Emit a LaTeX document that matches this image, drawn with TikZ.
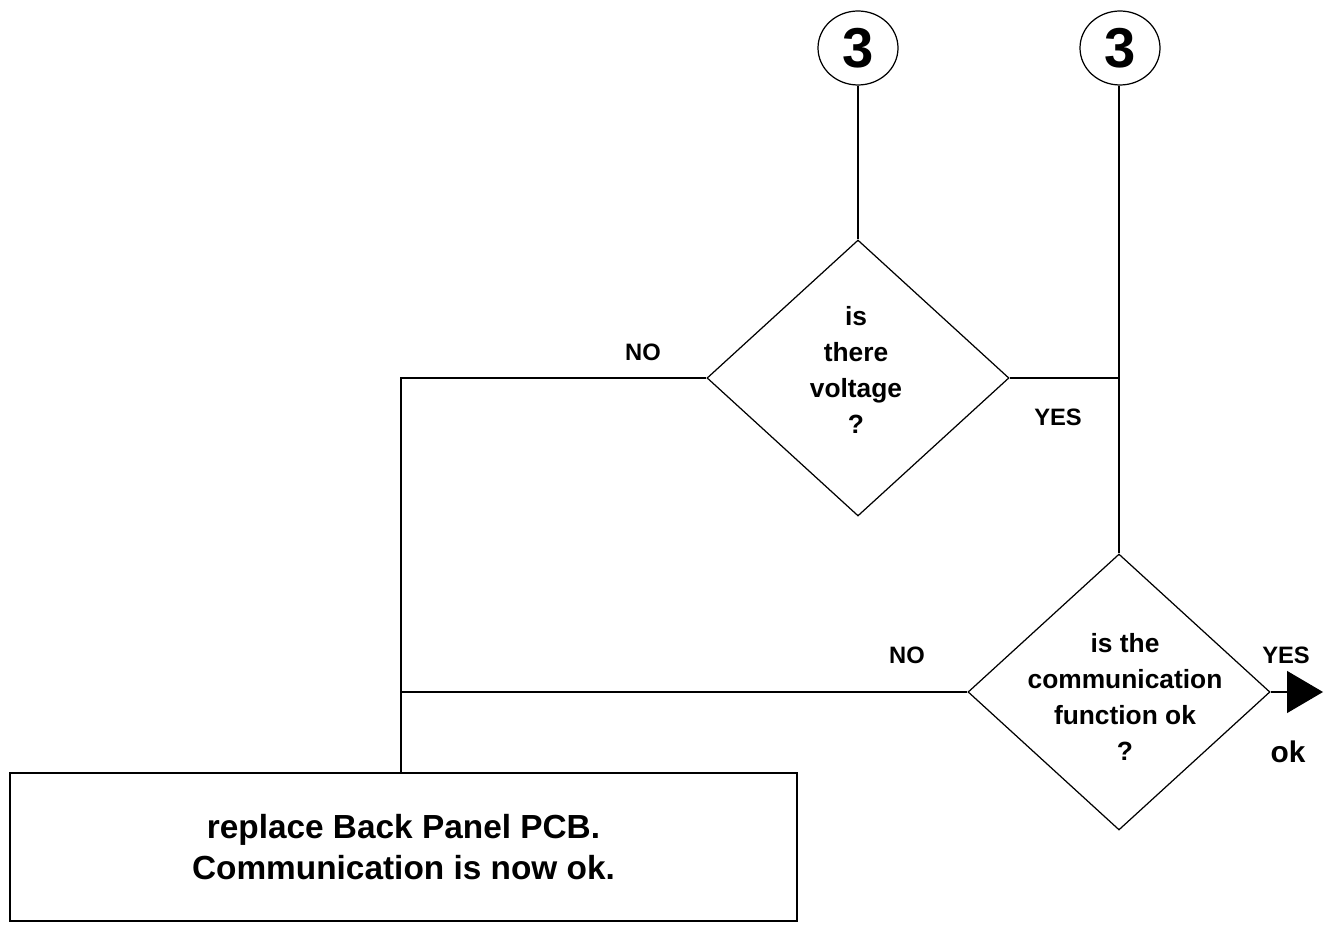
\documentclass[tikz,border=0pt]{standalone}
\usepackage{fontspec}
\setmainfont{Liberation Sans}
\usetikzlibrary{shapes.geometric,arrows.meta}
\begin{document}
\begin{tikzpicture}[x=0.02cm,y=-0.02cm,
  line width=0.7pt,
  conn/.style={draw=black},
  conncircle/.style={draw, ellipse, minimum width=80*0.02cm, minimum height=74*0.02cm, inner sep=0pt, font=\fontsize{32}{33}\selectfont\bfseries},
  decision/.style={draw, diamond, minimum width=302*0.02cm, minimum height=276*0.02cm, inner sep=0pt},
  dtext/.style={align=center, font=\fontsize{15}{20.5}\selectfont\bfseries, inner sep=0pt},
  lbl/.style={font=\fontsize{13.5}{15}\selectfont\bfseries, inner sep=0pt},
  action/.style={draw, rectangle, minimum width=787*0.02cm, minimum height=148*0.02cm, inner sep=0pt, align=center, font=\fontsize{19}{23.5}\selectfont\bfseries}
]
\useasboundingbox (0,0) rectangle (1326,925);

\node[conncircle] (c1) at (858,48) {3};
\node[conncircle] (c2) at (1120,48) {3};

\node[decision] (d1) at (858,378) {};
\node[dtext] (d1t) at (856,370) {is\\there\\voltage\\?};

\node[decision] (d2) at (1119,692) {};
\node[dtext] (d2t) at (1125,697) {is the\\communication\\function ok\\?};

\node[action] (box) at (403.5,847) {replace Back Panel PCB.\\Communication is now ok.};

\coordinate (j1) at (401,378);
\coordinate (j2) at (401,692);
\coordinate (j3) at (1119,378);
\coordinate (endarrow) at (1323,692);

\draw[conn] (c1) -- (d1.north);
\draw[conn] (c2.south -| d2.north) -- (d2.north);
\draw[conn] (d1.east) -- (j3);
\draw[conn] (d1.west) -- (j1) -- (box.north -| j1);
\draw[conn] (d2.west) -- (j2);
\draw[conn, -{Triangle[length=36*0.02cm, width=42*0.02cm]}] (d2.east) -- (endarrow);

\node[lbl] (no1) at (643,352) {NO};
\node[lbl] (yes1) at (1058,417) {YES};
\node[lbl] (no2) at (907,655) {NO};
\node[lbl] (yes2) at (1286,655) {YES};
\node[font=\fontsize{17}{18}\selectfont\bfseries, inner sep=0pt] (ok) at (1288,752) {ok};
\end{tikzpicture}
\end{document}
